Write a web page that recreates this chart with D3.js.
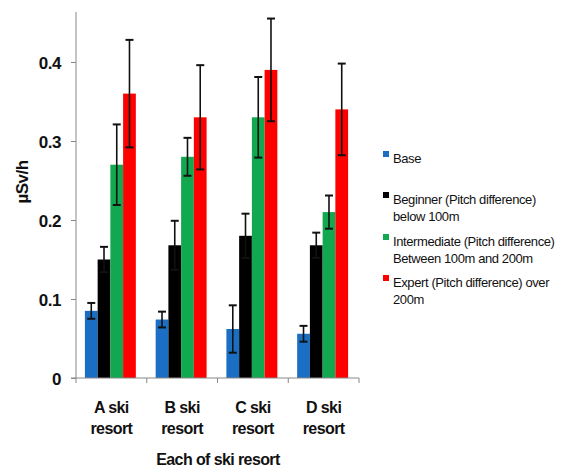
<!DOCTYPE html>
<html>
<head>
<meta charset="utf-8">
<script src="https://cdn.jsdelivr.net/npm/d3@7"></script>
<style>
  body { margin: 0; background: #fff; }
  text { font-family: "Liberation Sans", Arial, sans-serif; }
  .tick-label { font-size: 16px; font-weight: bold; fill: #111; letter-spacing: -0.6px; }
  .y-label { font-size: 17px; font-weight: bold; fill: #111; letter-spacing: -0.5px; }
  .legend-text { font-size: 13px; fill: #111; letter-spacing: -0.4px; }
</style>
</head>
<body>
<div id="chart"></div>
<script>
// data
const resorts = ["A ski resort", "B ski resort", "C ski resort", "D ski resort"];
const seriesNames = ["Base", "Beginner", "Intermediate", "Expert"];
const legendLines = [
  ["Base"],
  ["Beginner (Pitch difference)", "below 100m"],
  ["Intermediate (Pitch difference)", "Between 100m and 200m"],
  ["Expert (Pitch difference) over", "200m"]
];
const colors = ["#1a6ec4", "#000000", "#11a850", "#ff0000"];
const baseVals = [0.085, 0.074, 0.062, 0.056];
const beginnerVals = [0.15, 0.168, 0.18, 0.168];
const intermediateVals = [0.27, 0.28, 0.33, 0.21];
const expertVals = [0.36, 0.33, 0.39, 0.34];
const baseErr = [0.01, 0.01, 0.03, 0.01];
const beginnerErr = [0.016, 0.031, 0.028, 0.016];
const intermediateErr = [0.051, 0.024, 0.051, 0.021];
const expertErr = [0.068, 0.066, 0.065, 0.058];
const yTicks = [0, 0.1, 0.2, 0.3, 0.4];

const values = [baseVals, beginnerVals, intermediateVals, expertVals];
const errors = [baseErr, beginnerErr, intermediateErr, expertErr];

const W = 574, H = 468;
const margin = { top: 12, left: 76 };
const plotW = 283, plotH = 366; // axis from x=76 to 359, y=12 to 378

const svg = d3.select("#chart").append("svg")
    .attr("width", W)
    .attr("height", H);

const g = svg.append("g")
    .attr("transform", `translate(${margin.left},${margin.top})`);

// scales
const x = d3.scaleBand().domain(resorts).range([0, plotW]);
const xSeries = d3.scaleBand().domain(seriesNames)
    .range([0, x.bandwidth() * 0.72])
    .padding(0);
const groupOffset = (x.bandwidth() - xSeries.range()[1]) / 2 - 1;
const y = d3.scaleLinear().domain([0, 0.4]).range([plotH, 50]);

// bars
const rows = [];
resorts.forEach((r, i) => {
  seriesNames.forEach((s, j) => {
    rows.push({ resort: r, series: s, value: values[j][i], err: errors[j][i], color: colors[j] });
  });
});

g.selectAll("rect.bar")
  .data(rows)
  .enter().append("rect")
    .attr("class", "bar")
    .attr("x", d => x(d.resort) + groupOffset + xSeries(d.series))
    .attr("y", d => y(d.value))
    .attr("width", xSeries.bandwidth())
    .attr("height", d => y(0) - y(d.value))
    .attr("fill", d => d.color);

// error bars
const eb = g.selectAll("g.err")
  .data(rows)
  .enter().append("g")
    .attr("class", "err")
    .attr("transform", d => `translate(${x(d.resort) + groupOffset + xSeries(d.series) + xSeries.bandwidth() / 2},0)`);

eb.append("line")
    .attr("y1", d => y(d.value + d.err))
    .attr("y2", d => y(d.value - d.err))
    .attr("stroke", "#111").attr("stroke-width", 1.6);
eb.append("line")
    .attr("x1", -4).attr("x2", 4)
    .attr("y1", d => y(d.value + d.err)).attr("y2", d => y(d.value + d.err))
    .attr("stroke", "#111").attr("stroke-width", 2);
eb.append("line")
    .attr("x1", -4).attr("x2", 4)
    .attr("y1", d => y(d.value - d.err)).attr("y2", d => y(d.value - d.err))
    .attr("stroke", "#111").attr("stroke-width", 2);

// y axis
const yAxis = g.append("g")
    .call(d3.axisLeft(y).tickValues(yTicks).tickFormat(d => d === 0 ? "0" : d3.format(".1f")(d)).tickSize(5).tickPadding(10));
yAxis.select(".domain").attr("d", `M0,0V${plotH}`).attr("stroke", "#888");
yAxis.selectAll(".tick line").attr("stroke", "#888");
yAxis.selectAll(".tick text").attr("class", "y-label").attr("font-family", null).attr("font-size", null).attr("dy", "0.36em");

// x axis
const xAxis = g.append("g")
    .attr("transform", `translate(0,${plotH})`)
    .call(d3.axisBottom(x).tickSize(0).tickFormat(""));
xAxis.select(".domain").attr("d", `M-5,0H${plotW}`).attr("stroke", "#888");
xAxis.selectAll(".tick").remove();
const bounds = resorts.map(r => x(r)).concat([plotW]);
xAxis.selectAll("line.bound")
  .data(bounds)
  .enter().append("line")
    .attr("class", "bound")
    .attr("x1", d => d).attr("x2", d => d)
    .attr("y1", 0).attr("y2", 5)
    .attr("stroke", "#888");

// x category labels (two lines)
resorts.forEach(r => {
  const parts = [r.split(" ").slice(0, 2).join(" "), r.split(" ")[2]];
  const t = g.append("text")
      .attr("class", "tick-label")
      .attr("text-anchor", "middle")
      .attr("x", x(r) + x.bandwidth() / 2)
      .attr("y", plotH + 35);
  parts.forEach((p, k) => {
    t.append("tspan")
      .attr("x", x(r) + x.bandwidth() / 2)
      .attr("dy", k === 0 ? 0 : 21)
      .text(p);
  });
});

// axis titles
svg.append("text")
    .attr("class", "tick-label")
    .attr("text-anchor", "middle")
    .attr("x", 218)
    .attr("y", 465)
    .text("Each of ski resort");

svg.append("text")
    .attr("class", "y-label")
    .attr("text-anchor", "middle")
    .attr("transform", "translate(28,182) rotate(-90)")
    .text("µSv/h");

// legend
const legendY = [159, 200, 242, 283];
const legend = svg.append("g");
legendLines.forEach((lines, i) => {
  legend.append("rect")
    .attr("x", 383).attr("y", legendY[i] - 8)
    .attr("width", 6).attr("height", 6)
    .attr("fill", colors[i]);
  lines.forEach((ln, k) => {
    legend.append("text")
      .attr("class", "legend-text")
      .attr("x", 393)
      .attr("y", legendY[i] + 4 + k * 17)
      .text(ln);
  });
});
</script>
</body>
</html>
